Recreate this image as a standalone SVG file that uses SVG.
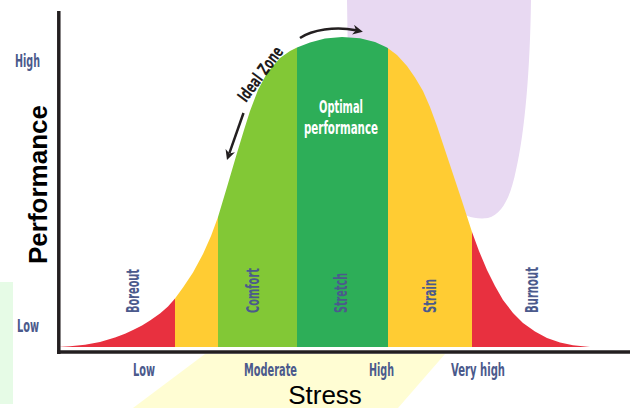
<svg xmlns="http://www.w3.org/2000/svg" width="635" height="408" viewBox="0 0 635 408">
<style>
.lbl{font-family:'Liberation Sans Narrow','DejaVu Sans Condensed','Liberation Sans',sans-serif;font-weight:bold;font-size:18px;fill:#4B5A8C}
.wht{fill:#FFFFFF}
.blk{fill:#1E1B1C}
.axis{stroke:#231F20;stroke-width:3.5;fill:none}
.arr{stroke:#231F20;stroke-width:2.5;fill:none}
.big{font-family:'Liberation Sans',Arial,sans-serif;fill:#000}
</style>
<defs>
<clipPath id="bell">
<path d="M58,347 L70,346.3 L85,344.8 L100,342 L115,337.5 L125,333.8 L133,330 L142,325.5 L150,320.5 L160,313.5 L168,306.5 L175,298.5 L183,287.5 L193,272.5 L203,254 L211,236 L218,217 L227,187 L237,153 L244,130 L250,111 L258,90 L267,73 L280,58 L290,51 L297,47.5 L310,42.5 L325,38.5 L342,37 L360,38.3 L375,42 L387,47.5 L397,55 L407,66 L415,77.5 L423,91 L430,107 L437,126 L443,144 L450,165 L456,183 L462,201 L467,216.5 L472,232 L479,251 L487,270 L495,286 L503,300 L513,313 L523,323 L535,331.5 L547,338 L560,342.5 L573,345.3 L590,347 Z"/>
</clipPath>
<marker id="ah" viewBox="0 0 10 10" refX="3" refY="5" markerWidth="4" markerHeight="4" orient="auto">
<path d="M0,0 L10,5 L0,10 L3,5 Z" fill="#231F20"/>
</marker>
</defs>
<rect x="0" y="0" width="635" height="408" fill="#FFFFFF"/>
<g id="watermark">
<path d="M347,0 L531,0 C530,70 525,130 516,170 C511,195 503,214 488,218 C475,220 463,215 455,210 L350,200 Z" fill="#E8D9F2"/>
<path d="M205,354 L445,354 L398,408 L133,408 Z" fill="#FFFDD3"/>
<rect x="0" y="282" width="13" height="122" fill="#E6FBE6"/>
</g>
<g id="curve" clip-path="url(#bell)">
<rect id="band-boreout" x="50" y="0" width="125" height="348" fill="#E8303F"/>
<rect id="band-yellow-left" x="175" y="0" width="43" height="348" fill="#FFCC33"/>
<rect id="band-comfort" x="218" y="0" width="79" height="348" fill="#82C836"/>
<rect id="band-stretch" x="297" y="0" width="91" height="348" fill="#2DAE58"/>
<rect id="band-strain" x="388" y="0" width="84" height="348" fill="#FFCC33"/>
<rect id="band-burnout" x="472" y="0" width="130" height="348" fill="#E8303F"/>
</g>
<g id="axes">
<line class="axis" x1="58.8" y1="11" x2="58.8" y2="354"/>
<line class="axis" x1="57" y1="352" x2="630" y2="352"/>
</g>
<g id="connectors">
<path class="arr" d="M300,38 C312,30 335,26 356,30.3" marker-end="url(#ah)"/>
<path class="arr" d="M243.5,113 L229.3,153.4" marker-end="url(#ah)"/>
</g>
<g id="y-labels">
<text class="lbl" x="27.5" y="66.5" text-anchor="middle" textLength="25" lengthAdjust="spacingAndGlyphs">High</text>
<text class="lbl" x="28" y="331.5" text-anchor="middle" textLength="22" lengthAdjust="spacingAndGlyphs">Low</text>
</g>
<g id="x-labels">
<text class="lbl" x="144" y="375.5" text-anchor="middle" textLength="22" lengthAdjust="spacingAndGlyphs">Low</text>
<text class="lbl" x="270.5" y="375.5" text-anchor="middle" textLength="53" lengthAdjust="spacingAndGlyphs">Moderate</text>
<text class="lbl" x="381.5" y="375.5" text-anchor="middle" textLength="25" lengthAdjust="spacingAndGlyphs">High</text>
<text class="lbl" x="478" y="375.5" text-anchor="middle" textLength="54" lengthAdjust="spacingAndGlyphs">Very high</text>
</g>
<g id="band-labels">
<text class="lbl" transform="translate(138.5,313) rotate(-90)" textLength="44" lengthAdjust="spacingAndGlyphs">Boreout</text>
<text class="lbl" transform="translate(258.5,313) rotate(-90)" textLength="45" lengthAdjust="spacingAndGlyphs">Comfort</text>
<text class="lbl" transform="translate(346.5,313) rotate(-90)" textLength="40" lengthAdjust="spacingAndGlyphs">Stretch</text>
<text class="lbl" transform="translate(435.5,313) rotate(-90)" textLength="34" lengthAdjust="spacingAndGlyphs">Strain</text>
<text class="lbl" transform="translate(537.5,313) rotate(-90)" textLength="46" lengthAdjust="spacingAndGlyphs">Burnout</text>
</g>
<g id="optimal">
<text class="lbl wht" x="341" y="112.5" text-anchor="middle" textLength="44" lengthAdjust="spacingAndGlyphs">Optimal</text>
<text class="lbl wht" x="341" y="134" text-anchor="middle" textLength="74" lengthAdjust="spacingAndGlyphs">performance</text>
</g>
<g id="ideal-zone">
<text class="lbl blk" style="font-size:17px" transform="translate(265,77.5) rotate(-53.5)" text-anchor="middle" textLength="64" lengthAdjust="spacingAndGlyphs">Ideal Zone</text>
</g>
<g id="axis-titles">
<text class="big" x="325" y="403.5" text-anchor="middle" font-size="26">Stress</text>
<text class="big" transform="translate(47,184.5) rotate(-90)" text-anchor="middle" font-size="26" font-weight="bold">Performance</text>
</g>
</svg>
